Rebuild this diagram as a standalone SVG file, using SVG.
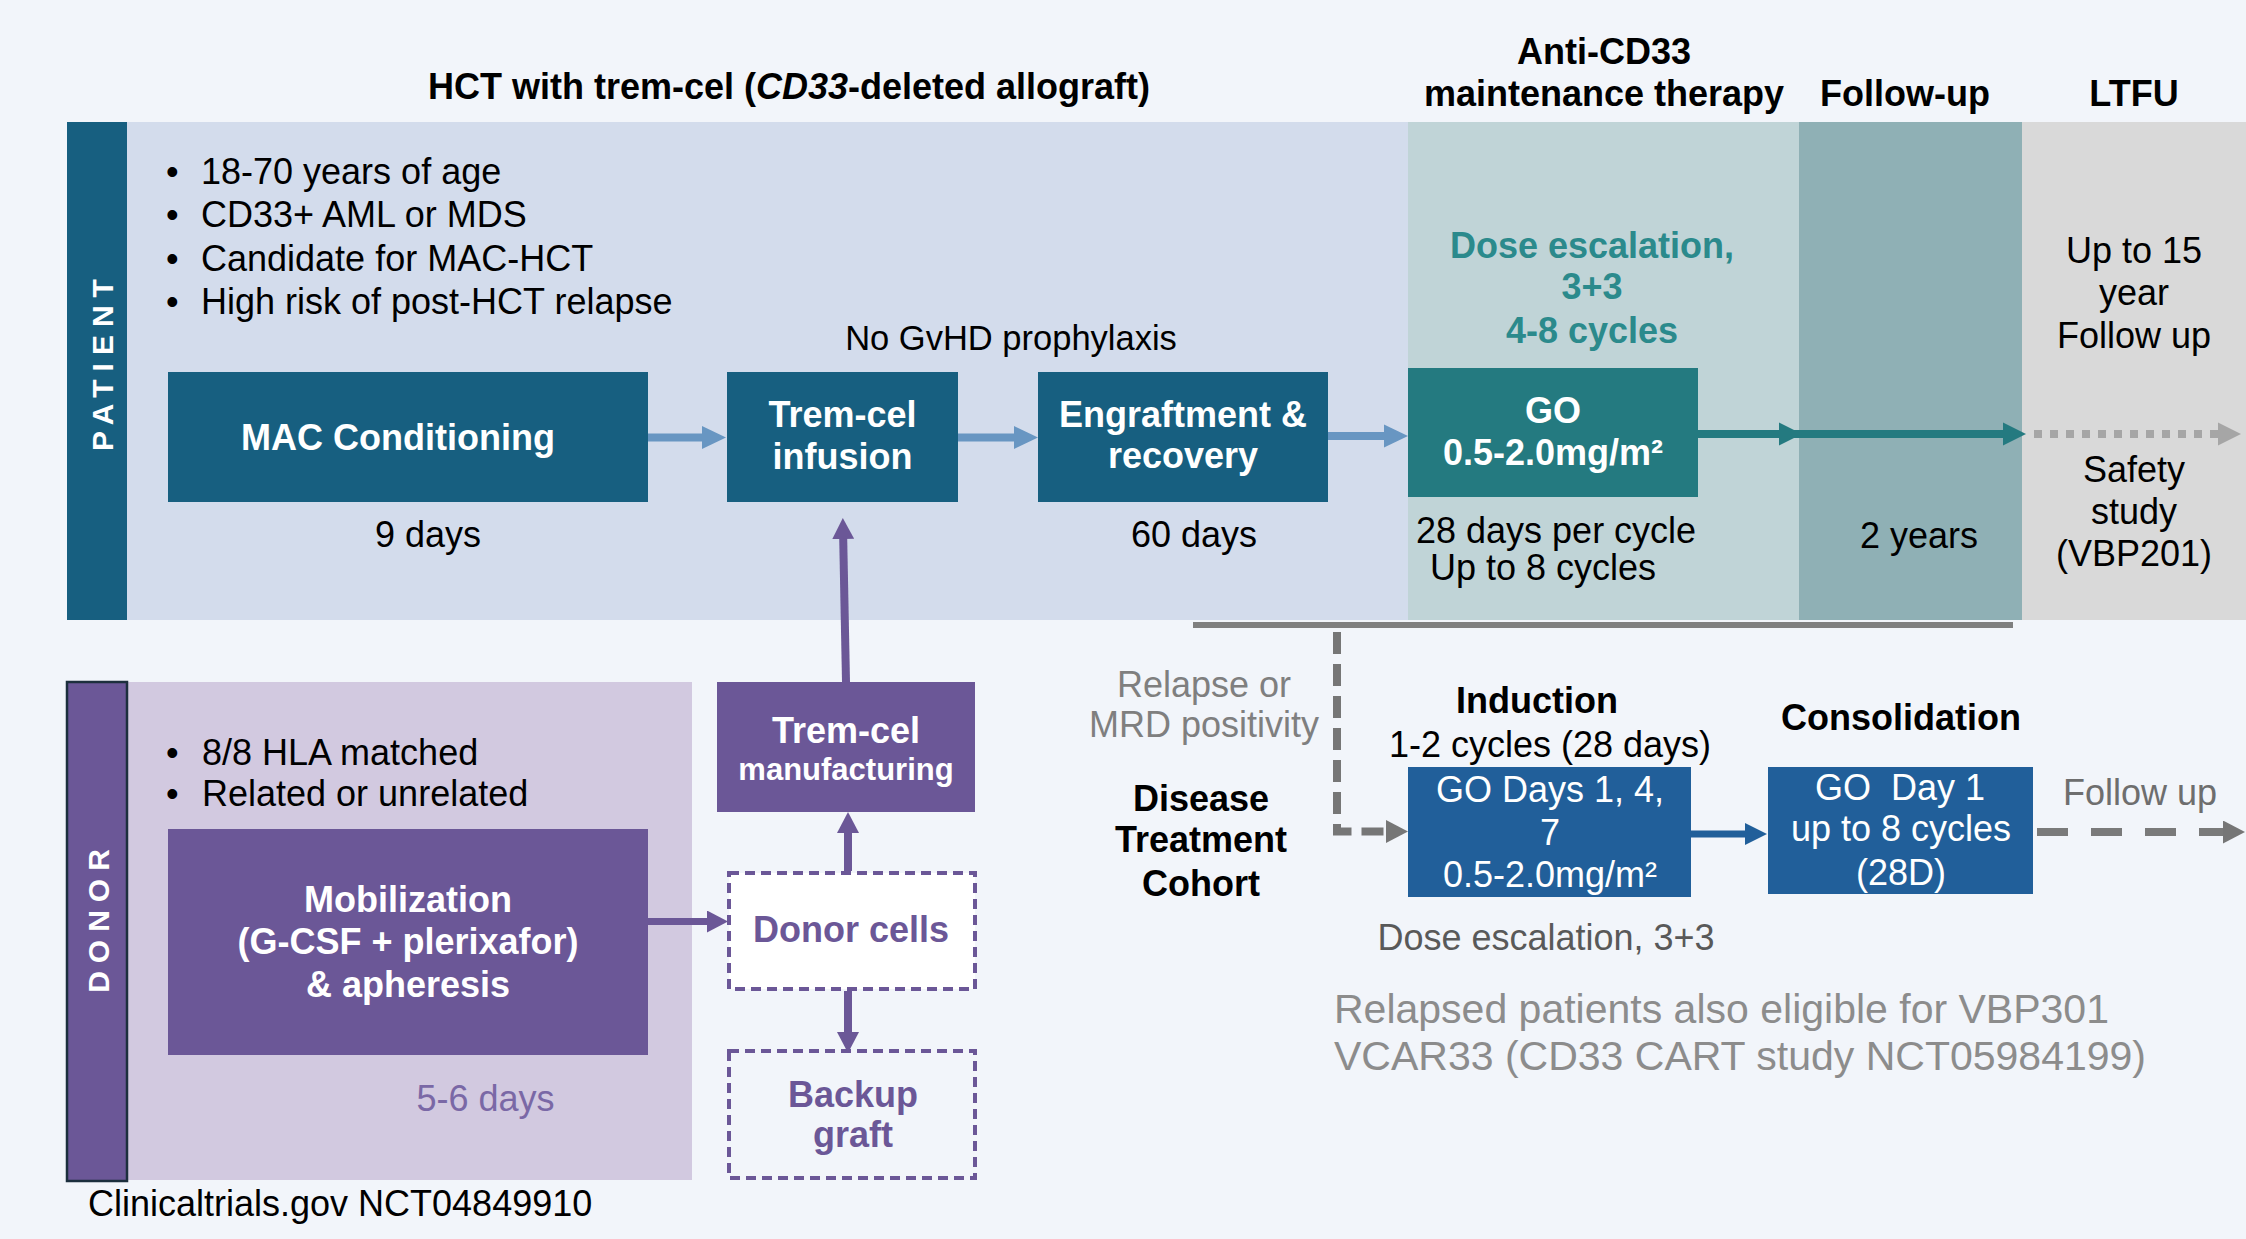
<svg xmlns="http://www.w3.org/2000/svg" width="2246" height="1239" viewBox="0 0 2246 1239">
<style>
text{font-family:"Liberation Sans",Arial,sans-serif;font-size:36px;fill:#000}
.b{font-weight:bold}
.w{fill:#fff}
.c{text-anchor:middle}
.gr{fill:#7f7f7f}
.pu{fill:#6b5797}
.teal{fill:#2b8a8c}
.lab{font-weight:bold;font-size:30px;fill:#fff;letter-spacing:8px}
.conn{fill:none;stroke-linecap:butt}
</style>
<defs>
<marker id="mBlue" markerUnits="userSpaceOnUse" markerWidth="24" markerHeight="24" viewBox="0 0 24 24" refX="14" refY="12" orient="auto"><path d="M0,0.5 L24,12 L0,23.5z" fill="#6896c2"/></marker>
<marker id="mTeal" markerUnits="userSpaceOnUse" markerWidth="23" markerHeight="24" viewBox="0 0 23 24" refX="13" refY="12" orient="auto"><path d="M0,0.5 L23,12 L0,23.5z" fill="#247a80"/></marker>
<marker id="mPurple" markerUnits="userSpaceOnUse" markerWidth="21" markerHeight="22" viewBox="0 0 21 22" refX="11" refY="11" orient="auto"><path d="M0,0 L21,11 L0,22z" fill="#6b5797"/></marker>
<marker id="mGray" markerUnits="userSpaceOnUse" markerWidth="22" markerHeight="23" viewBox="0 0 22 23" refX="12" refY="11.5" orient="auto"><path d="M0,0 L22,11.5 L0,23z" fill="#767676"/></marker>
<marker id="mLight" markerUnits="userSpaceOnUse" markerWidth="23" markerHeight="24" viewBox="0 0 23 24" refX="13" refY="12" orient="auto"><path d="M0,0.5 L23,12 L0,23.5z" fill="#a6a6a6"/></marker>
<marker id="mNavy" markerUnits="userSpaceOnUse" markerWidth="22" markerHeight="22" viewBox="0 0 22 22" refX="12" refY="11" orient="auto"><path d="M0,0 L22,11 L0,22z" fill="#215f9a"/></marker>
</defs>
<rect width="2246" height="1239" fill="#f2f5fa"/>

<!-- column headers -->
<g id="headers">
<text class="b c" x="789" y="99">HCT with trem-cel (<tspan font-style="italic">CD33</tspan>-deleted allograft)</text>
<text class="b c" x="1604" y="64">Anti-CD33</text>
<text class="b c" x="1604" y="106">maintenance therapy</text>
<text class="b c" x="1905" y="106">Follow-up</text>
<text class="b c" x="2134" y="106">LTFU</text>
</g>

<!-- patient swimlane -->
<g id="patient-lane">
<rect x="127" y="122" width="1281" height="498" fill="#d3dcec"/>
<rect x="1408" y="122" width="391" height="498" fill="#c0d4d7"/>
<rect x="1799" y="122" width="223" height="498" fill="#8fb0b5"/>
<rect x="2022" y="122" width="224" height="498" fill="#d9d9d9"/>
<rect x="67" y="122" width="60" height="498" fill="#175f80"/>
<text class="lab c" transform="translate(113,361) rotate(-90)" x="0" y="0">PATIENT</text>
<text x="166" y="184">•</text><text x="201" y="184">18-70 years of age</text>
<text x="166" y="227">•</text><text x="201" y="227">CD33+ AML or MDS</text>
<text x="166" y="270.5">•</text><text x="201" y="270.5">Candidate for MAC-HCT</text>
<text x="166" y="314">•</text><text x="201" y="314">High risk of post-HCT relapse</text>
<text class="c" x="1011" y="350" style="font-size:34.5px">No GvHD prophylaxis</text>
<text class="c" x="428" y="547">9 days</text>
<text class="c" x="1194" y="547">60 days</text>
<text class="b c teal" x="1592" y="258">Dose escalation,</text>
<text class="b c teal" x="1592" y="299">3+3</text>
<text class="b c teal" x="1592" y="343">4-8 cycles</text>
<text x="1416" y="543">28 days per cycle</text>
<text x="1430" y="580">Up to 8 cycles</text>
<text class="c" x="1919" y="548">2 years</text>
<text class="c" x="2134" y="263">Up to 15</text>
<text class="c" x="2134" y="305">year</text>
<text class="c" x="2134" y="348">Follow up</text>
<text class="c" x="2134" y="482">Safety</text>
<text class="c" x="2134" y="524">study</text>
<text class="c" x="2134" y="566">(VBP201)</text>
</g>

<g id="mac-conditioning">
<rect x="168" y="372" width="480" height="130" fill="#175f80"/>
<text class="b w c" x="398" y="450">MAC Conditioning</text>
</g>
<g id="tremcel-infusion">
<rect x="727" y="372" width="231" height="130" fill="#175f80"/>
<text class="b w c" x="842.5" y="427">Trem-cel</text>
<text class="b w c" x="842.5" y="468.5">infusion</text>
</g>
<g id="engraftment">
<rect x="1038" y="372" width="290" height="130" fill="#175f80"/>
<text class="b w c" x="1183" y="427">Engraftment &amp;</text>
<text class="b w c" x="1183" y="468">recovery</text>
</g>
<g id="go-maintenance">
<rect x="1408" y="368" width="290" height="129" fill="#247a80"/>
<text class="b w c" x="1553" y="423">GO</text>
<text class="b w c" x="1553" y="465">0.5-2.0mg/m²</text>
</g>

<!-- donor swimlane -->
<g id="donor-lane">
<rect x="127" y="682" width="565" height="498" fill="#d2c9e0"/>
<rect x="67" y="682" width="60" height="499" fill="#6b5797" stroke="#1c2f3d" stroke-width="2.5"/>
<text class="lab c" transform="translate(109,917) rotate(-90)" x="0" y="0">DONOR</text>
<text x="166" y="765">•</text><text x="202" y="765">8/8 HLA matched</text>
<text x="166" y="805.5">•</text><text x="202" y="805.5">Related or unrelated</text>
<text class="c" x="485.5" y="1111" style="fill:#7a68a6">5-6 days</text>
</g>
<g id="mobilization">
<rect x="168" y="829" width="480" height="226" fill="#6b5797"/>
<text class="b w c" x="408" y="912">Mobilization</text>
<text class="b w c" x="408" y="954">(G-CSF + plerixafor)</text>
<text class="b w c" x="408" y="997">&amp; apheresis</text>
</g>
<g id="tremcel-manufacturing">
<rect x="717" y="682" width="258" height="130" fill="#6b5797"/>
<text class="b w c" x="846" y="743">Trem-cel</text>
<text class="b w c" x="846" y="780" style="font-size:31px">manufacturing</text>
</g>
<g id="donor-cells">
<rect x="729" y="873" width="246" height="116" fill="#fff" stroke="#6b5797" stroke-width="4" stroke-dasharray="10 6"/>
<text class="b c pu" x="851" y="942">Donor cells</text>
</g>
<g id="backup-graft">
<rect x="729" y="1051" width="246" height="127" fill="none" stroke="#6b5797" stroke-width="4" stroke-dasharray="10 6"/>
<text class="b c pu" x="853" y="1107">Backup</text>
<text class="b c pu" x="853" y="1147">graft</text>
</g>

<!-- disease treatment cohort -->
<g id="cohort-labels">
<text class="c gr" x="1204" y="697">Relapse or</text>
<text class="c gr" x="1204" y="737">MRD positivity</text>
<text class="b c" x="1201" y="811">Disease</text>
<text class="b c" x="1201" y="852">Treatment</text>
<text class="b c" x="1201" y="896">Cohort</text>
<text class="b c" x="1537" y="713">Induction</text>
<text class="c" x="1550" y="757">1-2 cycles (28 days)</text>
<text class="b c" x="1901" y="730">Consolidation</text>
<text x="2063" y="805" style="fill:#6e6e6e">Follow up</text>
<text class="c" x="1546" y="950" style="fill:#595959">Dose escalation, 3+3</text>
<text x="1334" y="1023" style="font-size:41px;fill:#8c8c8c">Relapsed patients also eligible for VBP301</text>
<text x="1334" y="1070" style="font-size:41px;fill:#8c8c8c">VCAR33 (CD33 CART study NCT05984199)</text>
</g>
<g id="induction">
<rect x="1408" y="767" width="283" height="130" fill="#215f9a"/>
<text class="w c" x="1550" y="802">GO Days 1, 4,</text>
<text class="w c" x="1550" y="845">7</text>
<text class="w c" x="1550" y="887">0.5-2.0mg/m²</text>
</g>
<g id="consolidation">
<rect x="1768" y="767" width="265" height="127" fill="#215f9a"/>
<text class="w c" x="1900" y="800" xml:space="preserve">GO  Day 1</text>
<text class="w c" x="1901" y="841">up to 8 cycles</text>
<text class="w c" x="1901" y="885">(28D)</text>
</g>

<text id="registry" x="88" y="1216">Clinicaltrials.gov NCT04849910</text>

<!-- connectors -->
<g id="connectors" class="conn">
<line x1="648" y1="437.5" x2="716" y2="437.5" stroke="#6896c2" stroke-width="8" marker-end="url(#mBlue)"/>
<line x1="958" y1="437.5" x2="1028" y2="437.5" stroke="#6896c2" stroke-width="8" marker-end="url(#mBlue)"/>
<line x1="1328" y1="436" x2="1398" y2="436" stroke="#6896c2" stroke-width="8" marker-end="url(#mBlue)"/>
<line x1="1698" y1="434" x2="1792" y2="434" stroke="#247a80" stroke-width="8" marker-end="url(#mTeal)"/>
<line x1="1790" y1="434" x2="2016" y2="434" stroke="#247a80" stroke-width="8" marker-end="url(#mTeal)"/>
<line x1="2034" y1="434" x2="2231" y2="434" stroke="#a6a6a6" stroke-width="8" stroke-dasharray="8 8" marker-end="url(#mLight)"/>
<line x1="846" y1="682" x2="843" y2="528" stroke="#6b5797" stroke-width="8" marker-end="url(#mPurple)"/>
<line x1="848" y1="871" x2="848" y2="822" stroke="#6b5797" stroke-width="8" marker-end="url(#mPurple)"/>
<line x1="848" y1="991" x2="848" y2="1043" stroke="#6b5797" stroke-width="8" marker-end="url(#mPurple)"/>
<line x1="648" y1="921.5" x2="718" y2="921.5" stroke="#6b5797" stroke-width="7" marker-end="url(#mPurple)"/>
<rect x="1193" y="622" width="820" height="6" fill="#7f7f7f"/>
<path d="M1337,632 V831.5 H1398" stroke="#767676" stroke-width="8" stroke-dasharray="22 10" marker-end="url(#mGray)"/>
<line x1="1691" y1="834" x2="1757" y2="834" stroke="#215f9a" stroke-width="7" marker-end="url(#mNavy)"/>
<line x1="2037" y1="832" x2="2235" y2="832" stroke="#7a7a7a" stroke-width="8" stroke-dasharray="31 23" marker-end="url(#mGray)"/>
</g>
</svg>
